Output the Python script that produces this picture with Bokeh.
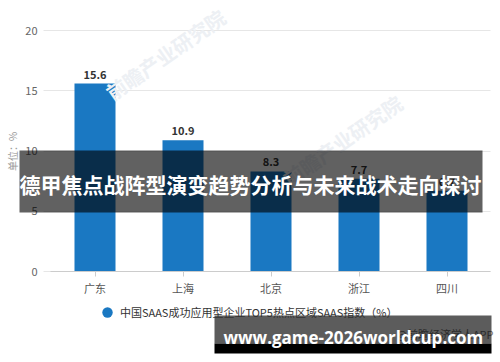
import math
from bokeh.plotting import figure
from bokeh.models import (Range1d, FixedTicker, LabelSet, ColumnDataSource, Label,
                          BoxAnnotation, Legend, LegendItem, Grid)
from bokeh.core.properties import value
from bokeh.embed import file_html
from bokeh.resources import INLINE

# ---------------- data ----------------
regions = ["广东", "上海", "北京", "浙江", "四川"]
saas_index = [15.6, 10.9, 8.3, 7.7, 6.7]
y_ticks = [0, 5, 10, 15, 20]
series_name = "中国SAAS成功应用型企业TOP5热点区域SAAS指数（%）"
unit_label = "单位：%"
banner_title = "德甲焦点战阵型演变趋势分析与未来战术走向探讨"
banner_url = "www.game-2026worldcup.com"
source_note = "@前瞻经济学人APP"
watermark = "前瞻产业研究院"

# ---------------- layout ----------------
FONT = "Noto Sans CJK SC"
BAR = "#1a78c2"
W, H = 500, 362
PX0, PXU = 94.5, 88.0      # pixel of first category centre, pixels per category
PY0, PYU = 271.0, 12.05    # pixel of value 0, pixels per unit


def dx(px):
    """canvas pixel -> data x"""
    return (px - PX0) / PXU


def dy(py):
    """canvas pixel -> data y"""
    return (PY0 - py) / PYU


idx = list(range(len(regions)))
src = ColumnDataSource(dict(x=idx, top=saas_index,
                            mid=[v / 2 for v in saas_index],
                            label=[f"{v:.1f}" for v in saas_index]))

p = figure(width=W, height=H, output_backend="svg", toolbar_location=None,
           x_range=Range1d(dx(0), dx(W)), y_range=Range1d(dy(H), dy(0)),
           min_border=0, min_border_left=0, min_border_right=0,
           min_border_top=0, min_border_bottom=0)
p.outline_line_color = None
p.background_fill_color = "white"
p.border_fill_color = "white"

# faint watermarks
for wx, wy in [(165, 54), (342, 140)]:
    p.add_layout(Label(x=dx(wx), y=dy(wy), text=watermark, angle=math.radians(35),
                       text_align="center", text_baseline="middle",
                       text_font=FONT, text_font_size="20px",
                       text_font_style="bold", text_color="#edf0f4"))

# grid lines (plot area 43..490 px)
grid_l, grid_r = dx(43), dx(490)
p.xgrid.grid_line_color = None
if "cross_bounds" in Grid.properties():
    p.ygrid.ticker = FixedTicker(ticks=y_ticks)
    p.ygrid.grid_line_color = "#e6e6e6"
    p.ygrid.cross_bounds = (grid_l, grid_r)
else:
    p.ygrid.grid_line_color = None
    p.segment(x0=[grid_l] * len(y_ticks), x1=[grid_r] * len(y_ticks),
              y0=y_ticks, y1=y_ticks, line_color="#e6e6e6", line_width=1)

# legend key points (sit inside the bars, hidden by them)
key = p.scatter(x="x", y="mid", source=src, marker="circle", size=6,
                fill_color=BAR, line_color=None)
bars = p.vbar(x="x", top="top", width=0.466, bottom=0, source=src,
              fill_color=BAR, line_color=None)

# axes, drawn at fixed locations inside the canvas
xa = p.xaxis[0]
xa.fixed_location = 0
xa.bounds = (dx(50), dx(490))
xa.ticker = FixedTicker(ticks=idx)
xa.major_label_overrides = {i: r for i, r in zip(idx, regions)}
xa.axis_line_color = "#cccccc"
xa.major_tick_line_color = "#cccccc"
xa.major_tick_out = 5
xa.major_tick_in = 0
xa.minor_tick_line_color = None
xa.major_label_standoff = 3
xa.major_label_text_font = FONT
xa.major_label_text_font_size = "11px"
xa.major_label_text_color = "#555555"

ya = p.yaxis[0]
ya.fixed_location = dx(43)
ya.ticker = FixedTicker(ticks=y_ticks)
ya.axis_line_color = None
ya.major_tick_line_color = None
ya.minor_tick_line_color = None
ya.major_tick_out = 0
ya.major_label_standoff = 6
ya.major_label_text_font = FONT
ya.major_label_text_font_size = "11px"
ya.major_label_text_color = "#666666"

# value labels
p.add_layout(LabelSet(x="x", y="top", text="label", source=src, y_offset=5,
                      text_align="center", text_baseline="bottom",
                      text_font=value(FONT), text_font_size=value("11px"),
                      text_font_style="bold", text_color="#333333"))

# unit label
p.add_layout(Label(x=dx(12), y=dy(151), text=unit_label, angle=math.pi / 2,
                   text_align="center", text_baseline="middle",
                   text_font=FONT, text_font_size="10px", text_color="#999999"))

# legend
legend = Legend(items=[LegendItem(label=series_name, renderers=[key])],
                location=(94, H - 325), orientation="horizontal",
                glyph_width=26, glyph_height=26, label_standoff=0, padding=0,
                margin=0, spacing=0, background_fill_alpha=0, border_line_color=None,
                label_text_font=FONT, label_text_font_size="11px",
                label_text_color="#333333")
p.add_layout(legend)

# source note (under the bottom banner)
p.add_layout(Label(x=dx(493), y=dy(333), text=source_note, text_align="right",
                   text_baseline="middle", text_font=FONT,
                   text_font_size="11px", text_color="#777777"))

# overlay banners
p.add_layout(BoxAnnotation(left=dx(19), right=dx(482), top=dy(150), bottom=dy(212),
                           fill_color="black", fill_alpha=0.62, line_color=None,
                           level="overlay"))
p.add_layout(Label(x=dx(250), y=dy(183), text=banner_title, text_align="center",
                   text_baseline="middle", text_font=FONT,
                   text_font_size="21px", text_font_style="bold",
                   text_color="white", level="overlay"))

p.add_layout(BoxAnnotation(left=dx(214), right=dx(491), top=dy(315), bottom=dy(343),
                           fill_color="black", fill_alpha=0.64, line_color=None,
                           level="overlay"))
p.add_layout(BoxAnnotation(left=dx(214), right=dx(491), top=dy(343), bottom=dy(353),
                           fill_color="black", fill_alpha=1.0, line_color=None,
                           level="overlay"))
p.add_layout(Label(x=dx(223), y=dy(337), text=banner_url, text_align="left",
                   text_baseline="middle", text_font="Open Sans",
                   text_font_size="17px", text_font_style="bold",
                   text_color="white", level="overlay"))

open("out.html", "w").write(file_html(p, INLINE))
